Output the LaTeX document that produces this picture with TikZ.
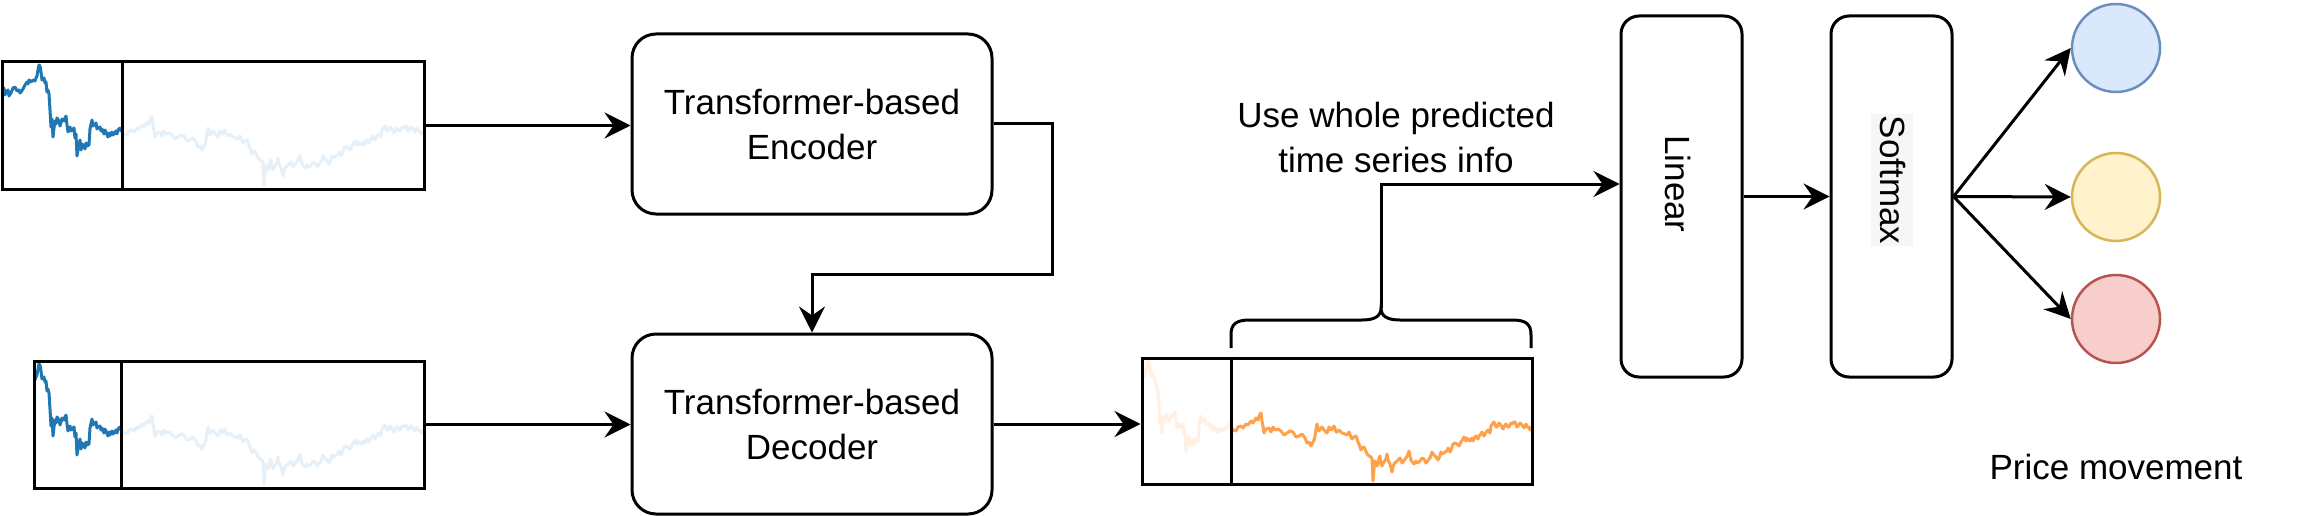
\documentclass[tikz,border=0pt]{standalone}
\usepackage{fontspec}
\setmainfont{Liberation Sans}
\usetikzlibrary{arrows.meta,calc}
\definecolor{dblue}{HTML}{1F77B4}
\definecolor{fblue}{HTML}{E6F0F9}
\definecolor{dorange}{HTML}{FFA04A}
\definecolor{forange}{HTML}{FFF0E3}
\definecolor{cbluef}{HTML}{DAE8FC}
\definecolor{cblued}{HTML}{6C8EBF}
\definecolor{cyelf}{HTML}{FFF2CC}
\definecolor{cyeld}{HTML}{D6B656}
\definecolor{credf}{HTML}{F8CECC}
\definecolor{credd}{HTML}{B85450}
\definecolor{lblbg}{HTML}{F5F6F8}
\newcommand\myseries{plot[sharp plot] coordinates {
(2,100) (3,92) (4,88) (5,95) (6,92) (8,90) (9,96) (11,93) (13,88) (15,87) (17,91) (19,90) (20,93) (21,92) (23,89) (25,85) (27,82) (28,84) (29,80) (31,82) (33,80) (35,81) (36,78) (37,76) (38,70) (39,65) (40,66) (41,72) (42,80) (44,78) (45,83) (46,82) (47,92) (48,90) (49,94) (50,110) (51,127) (52,119) (53,137) (54,128) (55,121) (56,124) (57,118) (59,121) (60,126) (61,123) (62,119) (64,121) (65,118) (66,116) (67,125) (68,132) (70,127) (71,131) (72,130) (74,128) (75,138) (76,134) (77,156) (78,150) (79,146) (80,140) (81,150) (82,144) (83,145) (85,149) (86,143) (87,146) (89,145) (90,129) (91,124) (92,120) (93,126) (94,125) (96,123) (97,129) (98,128) (100,127) (101,131) (102,129) (104,134) (105,130) (106,132) (108,137) (109,133) (110,136) (112,132) (113,135) (114,134) (116,131) (117,134) (118,130) (120,128) (121,131) (122,131)
(124,134) (127,135) (129,131) (132,130) (134,132) (137,128) (139,129) (142,125) (144,127) (147,122) (149,124) (151,118) (152,117) (153,125) (154,130) (155,137) (157,133) (160,132) (162,136) (164,131) (166,134) (169,133) (172,135) (175,139) (178,137) (181,135) (184,136) (187,141) (190,140) (193,138) (196,142) (198,147) (200,146) (202,150) (203,148) (205,144) (206,140) (207,133) (208,128) (210,135) (211,133) (213,131) (215,134) (218,137) (220,131) (222,134) (225,130) (227,136) (228,136) (230,134) (233,137) (236,138) (238,139) (240,136) (243,143) (245,141) (247,140) (249,146) (250,148) (252,154) (253,152) (255,151) (256,153) (258,158) (260,160) (262,161) (263,163) (264,185) (265,172) (266,165) (268,170) (269,167) (270,162) (271,160) (272,167) (273,170) (275,166) (277,163) (278,158) (279,164) (281,168) (282,172) (283,176) (284,171) (285,168) (287,166) (288,165) (290,163) (291,162) (293,167) (294,166) (296,163) (297,162) (299,158) (300,155) (301,160) (302,164) (304,167) (305,168) (307,165) (308,167) (310,166) (311,165) (313,162) (315,163) (317,167) (318,166) (320,163) (321,162) (323,156) (324,158) (326,160) (327,161) (329,164) (330,162) (332,156) (333,158) (335,157) (336,156) (338,155) (339,152) (341,156) (342,154) (344,148) (346,147) (348,148) (350,150) (352,146) (354,143) (355,141) (357,145) (358,142) (360,144) (361,145) (363,142) (364,145) (366,141) (367,140) (369,143) (370,140) (372,138) (373,136) (375,140) (376,138) (378,135) (379,134) (381,137) (382,130) (384,127) (385,126) (387,131) (388,131) (390,127) (391,128) (393,131) (394,133) (396,129) (397,128) (399,131) (400,131) (402,127) (403,128) (405,126) (406,126) (408,131) (409,130) (411,127) (412,128) (414,130) (415,132) (417,128) (418,131) (420,131) (421,134) (423,132) (425,131)}}
\begin{document}
\begin{tikzpicture}[x=1pt,y=-1pt,
  txt/.style={font=\fontsize{35}{45}\selectfont},
  block/.style={draw=black, line width=3pt, rounded corners=24pt, fill=white, inner sep=0pt, align=center, txt},
  vblock/.style={draw=black, line width=3pt, rounded corners=18pt, fill=white, inner sep=0pt},
  frame/.style={draw=black, line width=3pt, inner sep=0pt},
  series/.style={line width=3pt, line join=round, line cap=round},
  arr/.style={line width=3pt, -{Stealth[length=26pt,width=26pt,inset=9pt]}},
  outc/.style={circle, line width=2.5pt, minimum size=88pt, inner sep=0pt},
  lbl/.style={txt, inner sep=0pt}]
\fill[white] (0,0) rectangle (2313,516);
\useasboundingbox (0,0) rectangle (2313,516);

% time series curves
\begin{scope}
  \clip (2,62) rectangle (122,189);
  \draw[series, dblue] \myseries;
\end{scope}
\begin{scope}
  \clip (122,62) rectangle (424,189);
  \draw[series, fblue] \myseries;
\end{scope}
\begin{scope}
  \clip (34,361) rectangle (121,488);
  \draw[series, dblue, shift={(0,299)}] \myseries;
\end{scope}
\begin{scope}
  \clip (121,361) rectangle (424,488);
  \draw[series, fblue, shift={(0,299)}] \myseries;
\end{scope}
\begin{scope}
  \clip (1142,358) rectangle (1231,484);
  \draw[series, forange, shift={(1109,296)}] \myseries;
\end{scope}
\begin{scope}
  \clip (1231,358) rectangle (1532,484);
  \draw[series, dorange, shift={(1109,296)}] \myseries;
\end{scope}

% frames
\node[frame, minimum width=422pt, minimum height=127pt] (in1) at (213,125.5) {};
\draw[line width=3pt] (in1.north west -| 122,0) -- (in1.south west -| 122,0);
\node[frame, minimum width=390pt, minimum height=127pt] (in2) at (229,424.5) {};
\draw[line width=3pt] (in2.north west -| 121,0) -- (in2.south west -| 121,0);
\node[frame, minimum width=390pt, minimum height=126pt] (out) at (1337,421) {};
\draw[line width=3pt] (out.north west -| 1231,0) -- (out.south west -| 1231,0);

% blocks
\node[block, minimum width=360pt, minimum height=180pt] (enc) at (812,124) {Transformer-based\\Encoder};
\node[block, minimum width=360pt, minimum height=180pt] (dec) at (812,424) {Transformer-based\\Decoder};
\node[vblock, minimum width=121pt, minimum height=361pt] (lin) at (1681.5,196.5) {};
\node[vblock, minimum width=121pt, minimum height=361pt] (soft) at (1891.5,196.5) {};
\node[lbl, rotate=-90, anchor=base] (linlbl) at (1665,184) {Linear};
\node[lbl, rotate=-90, anchor=base, fill=lblbg, text height=32pt, text depth=8pt, inner xsep=2pt, inner ysep=1pt] (softlbl) at (1880,180) {Softmax};

% output circles
\node[outc, draw=cblued, fill=cbluef] (c1) at (2116,48) {};
\node[outc, draw=cyeld, fill=cyelf] (c2) at (2116,197) {};
\node[outc, draw=credd, fill=credf] (c3) at (2116,319) {};
\node[lbl, anchor=base] (pm) at (2116,479) {Price movement};

% brace and label
\coordinate (bl) at (1231,348);
\coordinate (br) at (1531,348);
\coordinate (tip) at (1381,308);
\draw[line width=3pt] (bl) -- (1231,335) .. controls (1231,324) and (1236,320) .. (1250,320) -- (1362,320) .. controls (1375,320) and (1381,316) .. (tip) .. controls (1381,316) and (1387,320) .. (1400,320) -- (1512,320) .. controls (1526,320) and (1531,324) .. (1531,335) -- (br);
\node[lbl, anchor=base] (u1) at (1396,128) {Use whole predicted};
\node[lbl, anchor=base] (u2) at (1396,172) {time series info};

% connectors
\coordinate (m1) at (1052,274);
\coordinate (linin) at (lin.west |- 0,184);
\draw[arr] (in1.east) -- (in1.east -| enc.west);
\draw[arr] (in2.east) -- (in2.east -| dec.west);
\draw[arr] (enc.east) -| (m1) -| (dec.north);
\draw[arr] (dec.east) -- (dec.east -| out.west);
\draw[arr] (tip) |- (linin);
\draw[arr] (lin.east) -- (soft.west);
\draw[arr] (soft.east) -- (c1.west);
\draw[arr] (soft.east) -- (c2.west);
\draw[arr] (soft.east) -- (c3.west);
\end{tikzpicture}
\end{document}
